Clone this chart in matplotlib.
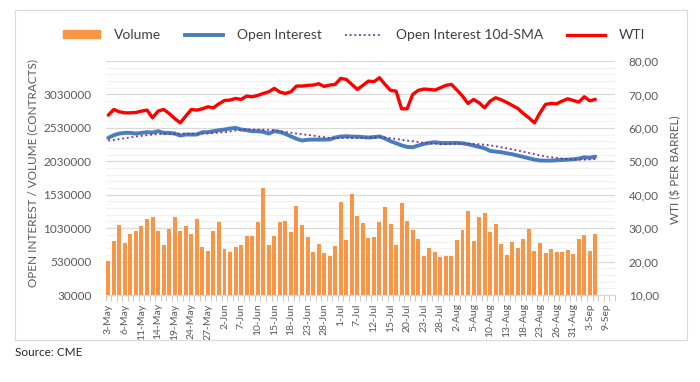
import numpy as np
import pandas as pd
import matplotlib.pyplot as plt
from matplotlib.lines import Line2D
from matplotlib.patches import Patch, Rectangle

plt.rcParams['font.family'] = ['Lato', 'DejaVu Sans']

# trading days shown on the category axis (US holidays skipped)
HOLIDAYS = ['2021-05-31', '2021-07-05', '2021-09-06']
DAYS = pd.bdate_range('2021-05-03', '2021-09-10', freq='C', holidays=HOLIDAYS)
DAY_LABELS = [f"{d.day}-{d.strftime('%b')}" for d in DAYS]

VOLUME = [545000, 845000, 1080000, 810000, 945000, 990000, 1065000, 1170000, 1200000, 980000,
          780000, 1020000, 1200000, 980000, 1065000, 945000, 1170000, 750000, 695000, 980000,
          1115000, 720000, 675000, 750000, 780000, 915000, 915000, 1115000, 1635000, 780000,
          915000, 1115000, 1140000, 965000, 1365000, 1080000, 900000, 675000, 795000, 660000,
          615000, 765000, 1425000, 855000, 1545000, 1215000, 1110000, 885000, 900000, 1125000,
          1350000, 1095000, 780000, 1410000, 1140000, 1005000, 870000, 615000, 735000, 675000,
          600000, 615000, 615000, 855000, 1005000, 1290000, 840000, 1200000, 1260000, 975000,
          1095000, 795000, 630000, 825000, 735000, 870000, 1020000, 690000, 810000, 660000,
          720000, 675000, 675000, 705000, 645000, 870000, 930000, 690000, 945000]

OPEN_INTEREST = [2380000, 2420000, 2445000, 2455000, 2455000, 2445000, 2455000, 2465000, 2460000, 2480000,
                 2455000, 2455000, 2445000, 2415000, 2430000, 2430000, 2430000, 2465000, 2465000, 2480000,
                 2495000, 2505000, 2520000, 2530000, 2505000, 2495000, 2480000, 2480000, 2470000, 2445000,
                 2480000, 2468000, 2440000, 2402000, 2367000, 2340000, 2352000, 2355000, 2355000, 2355000,
                 2357000, 2385000, 2400000, 2405000, 2400000, 2398000, 2392000, 2385000, 2392000, 2402000,
                 2370000, 2330000, 2300000, 2268000, 2245000, 2240000, 2265000, 2290000, 2305000, 2315000,
                 2305000, 2303000, 2305000, 2305000, 2300000, 2285000, 2265000, 2245000, 2225000, 2185000,
                 2175000, 2165000, 2150000, 2135000, 2115000, 2095000, 2075000, 2055000, 2042000, 2040000,
                 2040000, 2045000, 2050000, 2055000, 2060000, 2070000, 2090000, 2085000, 2100000]

OI_SMA = [2340000, 2350000, 2362000, 2375000, 2388000, 2400000, 2410000, 2420000, 2430000, 2438000,
          2440000, 2442000, 2443000, 2443000, 2442000, 2442000, 2443000, 2445000, 2448000, 2452000,
          2458000, 2465000, 2475000, 2490000, 2500000, 2505000, 2506000, 2505000, 2503000, 2500000,
          2495000, 2482000, 2470000, 2458000, 2445000, 2435000, 2425000, 2415000, 2400000, 2390000,
          2380000, 2378000, 2377000, 2378000, 2380000, 2380000, 2380000, 2382000, 2386000, 2390000,
          2385000, 2375000, 2365000, 2350000, 2340000, 2330000, 2318000, 2305000, 2298000, 2295000,
          2285000, 2285000, 2290000, 2292000, 2293000, 2292000, 2290000, 2285000, 2278000, 2268000,
          2255000, 2240000, 2225000, 2208000, 2190000, 2172000, 2155000, 2137000, 2118000, 2103000,
          2090000, 2080000, 2072000, 2065000, 2058000, 2055000, 2055000, 2058000, 2063000]

WTI = [63.8, 65.5, 64.8, 64.5, 64.5, 64.6, 65.0, 65.3, 63.0, 65.0,
       65.5, 64.3, 62.8, 61.5, 63.5, 65.5, 65.3, 65.7, 66.3, 66.0,
       67.2, 68.2, 68.3, 68.8, 68.5, 69.5, 69.3, 69.7, 70.3, 70.8,
       71.8, 70.7, 70.3, 70.8, 72.5, 72.5, 72.7, 72.8, 73.2, 72.4,
       72.8, 73.0, 74.8, 74.5, 73.0, 71.5, 72.7, 74.0, 73.8, 75.0,
       73.0, 71.2, 71.0, 65.7, 65.7, 70.0, 71.2, 71.6, 71.5, 71.3,
       72.0, 72.7, 73.0, 71.3, 69.5, 67.3, 68.5, 67.5, 66.0, 68.0,
       69.0, 68.4, 67.6, 66.7, 65.8, 64.3, 63.0, 61.5, 64.5, 67.0,
       67.3, 67.2, 68.0, 68.7, 68.2, 67.7, 69.3, 68.1, 68.5]

LEFT_TICKS = [30000, 530000, 1030000, 1530000, 2030000, 2530000, 3030000]
RIGHT_TICKS = [10, 20, 30, 40, 50, 60, 70, 80]

W, H = 700, 382
fig = plt.figure(figsize=(W / 100, H / 100), dpi=100)
ax = fig.add_axes([105.5 / W, 87 / H, 509.2 / W, 234 / H])
ax2 = ax.twinx()

x = np.arange(len(VOLUME))
ax.bar(x, VOLUME, width=0.72, color='#F79646', zorder=2)
ax.plot(x, OPEN_INTEREST, color='#4A7EBB', lw=2.8, zorder=3, solid_capstyle='round')
ax.plot(x, OI_SMA, color='#7030A0', lw=1.3, ls=(0, (1, 1.6)), zorder=4)
ax2.plot(x, WTI, color='#FF0000', lw=2.4, zorder=3, solid_capstyle='round')

ax.set_xlim(-0.5, len(DAYS) - 0.5)
ax.set_ylim(30000, 3530000)
ax2.set_ylim(10, 80)

# gridlines
for v in np.arange(30000, 3530001, 100000):
    major = (v - 30000) % 500000 == 0
    ax.axhline(v, color='#d9d9d9' if major else '#f2f2f2', lw=0.9, zorder=0)

ax.set_yticks(LEFT_TICKS)
ax.set_yticklabels([str(v) for v in LEFT_TICKS])
ax2.set_yticks(RIGHT_TICKS)
ax2.set_yticklabels([f'{v:.2f}'.replace('.', ',') for v in RIGHT_TICKS])

ax.set_xticks(list(range(0, len(DAYS), 3)))
ax.set_xticklabels(DAY_LABELS[::3], rotation=90)
ax.set_xticks(np.arange(-0.5, len(DAYS), 1), minor=True)

ax.tick_params(axis='x', which='major', length=0, pad=6, labelsize=7.5, colors='#595959')
ax.tick_params(axis='x', which='minor', length=4, color='#bfbfbf')
ax.tick_params(axis='y', length=0, pad=10, labelsize=8.5, colors='#595959')
ax2.tick_params(axis='y', length=0, pad=10, labelsize=8.5, colors='#595959')

for a in (ax, ax2):
    for s in ('top', 'left', 'right'):
        a.spines[s].set_visible(False)
    a.spines['bottom'].set_color('#d9d9d9')

fig.text(33 / W, 1 - 173 / H, 'OPEN INTEREST / VOLUME (CONTRACTS)', rotation=90,
         ha='center', va='center', fontsize=8.5, color='#595959')
fig.text(676 / W, 1 - 170 / H, 'WTI ($ PER BARREL)', rotation=90,
         ha='center', va='center', fontsize=8.5, color='#595959')

handles = [Patch(color='#F79646'),
           Line2D([], [], color='#4A7EBB', lw=2.8),
           Line2D([], [], color='#7030A0', lw=1.3, ls=(0, (1, 1.6))),
           Line2D([], [], color='#FF0000', lw=2.4)]
labels = ['Volume', 'Open Interest', 'Open Interest 10d-SMA', 'WTI']
fig.legend(handles, labels, loc='center', bbox_to_anchor=(354 / W, 1 - 35 / H), ncol=4,
           frameon=False, fontsize=10, handlelength=2.7, handleheight=0.5,
           handletextpad=1.0, columnspacing=1.7, labelcolor='#404040')

fig.patches.append(Rectangle((15 / W, 1 - 340 / H), 672 / W, 330 / H, transform=fig.transFigure,
                             fill=False, edgecolor='#d9d9d9', lw=0.8))
fig.text(15 / W, 1 - 352 / H, 'Source: CME', ha='left', va='center', fontsize=8.5, color='#262626')

fig.savefig('out.png', dpi=100)
